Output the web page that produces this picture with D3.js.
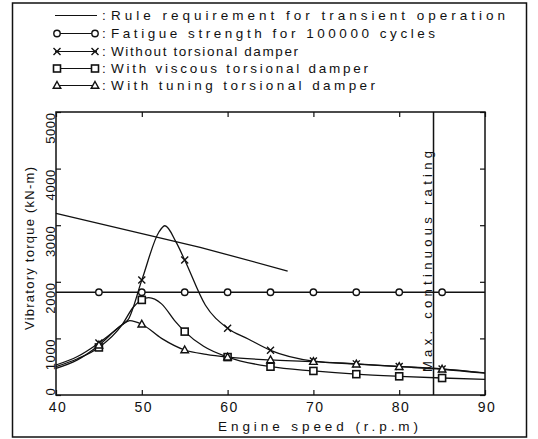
<!DOCTYPE html>
<html>
<head>
<meta charset="utf-8">
<script src="https://cdn.jsdelivr.net/npm/d3@7"></script>
<style>
  body { margin: 0; background: #fff; }
  svg text { font-family: "Liberation Sans", "DejaVu Sans", sans-serif; fill: #111; }
</style>
</head>
<body>
<div class="chart"></div>
<script>
// ticks
const rpmTicks = [40, 50, 60, 70, 80, 90];
const torqueTicks = [0, 1000, 2000, 3000, 4000, 5000];
const maxRating = 84;

// rule requirement for transient operation
const ruleRpm = [40, 56.8, 67];
const ruleVal = [3210, 2610, 2190];

// fatigue strength for 100000 cycles
const fatigueRpm = [40, 45, 50, 55, 60, 65, 70, 75, 80, 85, 90];
const fatigueVal = [1815, 1815, 1815, 1815, 1815, 1815, 1815, 1815, 1815, 1815, 1815];

// without torsional damper
const withoutRpm = [40, 42.5, 45, 47.7, 48.4, 50, 52, 52.7, 54, 55, 57.4, 60, 62.4, 65, 70, 75, 80, 85, 90];
const withoutVal = [530, 680, 920, 1240, 1330, 2030, 2880, 2990, 2700, 2385, 1590, 1180, 990, 790, 600, 550, 505, 460, 390];

// with viscous torsional damper
const viscousRpm = [40, 42.5, 45, 47.7, 49, 50, 50.8, 52.3, 53.9, 55, 57.2, 60, 65, 70, 75, 80, 85, 90];
const viscousVal = [500, 640, 840, 1240, 1550, 1680, 1720, 1610, 1300, 1120, 860, 670, 500, 425, 368, 330, 300, 275];

// with tuning torsional damper
const tuningRpm = [40, 42.5, 45, 47.7, 48.6, 50, 52.3, 55, 57.5, 60, 65, 70, 75, 80, 85, 90];
const tuningVal = [470, 620, 880, 1240, 1315, 1250, 1000, 795, 718, 670, 620, 590, 545, 500, 455, 385];

const markRpm = [45, 50, 55, 60, 65, 70, 75, 80, 85];

const legendLabels = [
  'Rule requirement for transient operation',
  'Fatigue strength for 100000 cycles',
  'Without torsional damper',
  'With viscous torsional damper',
  'With tuning torsional damper'
];

const w = 538, h = 439;
const svg = d3.select('div.chart').append('svg')
  .attr('width', w)
  .attr('height', h);

// outer frame
svg.append('rect')
  .attr('x', 12.5).attr('y', 3)
  .attr('width', 514).attr('height', 434)
  .attr('fill', 'none').attr('stroke', '#111').attr('stroke-width', 1.5);

const xScale = d3.scaleLinear().domain([40, 90]).range([56, 485]);
const yScale = d3.scaleLinear().domain([0, 5000]).range([395, 112]);

const smooth = d3.line()
  .x(d => xScale(d[0]))
  .y(d => yScale(d[1]))
  .curve(d3.curveMonotoneX);
const straight = d3.line()
  .x(d => xScale(d[0]))
  .y(d => yScale(d[1]));

const zip = (a, b) => a.map((v, i) => [v, b[i]]);

// axes (ticks pointing inward)
const xAxis = svg.append('g')
  .attr('transform', 'translate(0,395)')
  .call(d3.axisBottom(xScale).tickValues(rpmTicks).tickSize(-5).tickSizeOuter(0).tickPadding(7));
xAxis.selectAll('text')
  .style('font-size', '14px')
  .style('font-family', '"Liberation Sans", sans-serif')
  .attr('dx', '0.1em')
  .style('letter-spacing', '1.5px');

svg.append('g')
  .attr('transform', 'translate(0,112)')
  .call(d3.axisTop(xScale).tickValues(rpmTicks).tickSize(-5).tickSizeOuter(0).tickFormat(''));

const yAxis = svg.append('g')
  .attr('transform', 'translate(56,0)')
  .call(d3.axisLeft(yScale).tickValues(torqueTicks).tickSize(-5).tickSizeOuter(0).tickFormat(d3.format('d')));
yAxis.selectAll('text')
  .attr('x', null).attr('dy', null)
  .attr('transform', 'translate(-1.5,0) rotate(-90)')
  .attr('text-anchor', d => d === 0 ? 'start' : 'end')
  .style('font-family', '"Liberation Sans", sans-serif')
  .style('letter-spacing', '0.6px')
  .style('font-size', '13px');

svg.append('g')
  .attr('transform', 'translate(485,0)')
  .call(d3.axisRight(yScale).tickValues(torqueTicks).tickSize(-5).tickSizeOuter(0).tickFormat(''));

svg.selectAll('.domain').remove();
svg.selectAll('.tick line').attr('stroke', '#111').attr('stroke-width', 1.2);

// plot frame
svg.append('rect')
  .attr('x', xScale(40)).attr('y', yScale(5000))
  .attr('width', xScale(90) - xScale(40)).attr('height', yScale(0) - yScale(5000))
  .attr('fill', 'none').attr('stroke', '#111').attr('stroke-width', 1.5);

// max continuous rating
svg.append('line')
  .attr('x1', xScale(maxRating)).attr('x2', xScale(maxRating))
  .attr('y1', yScale(0)).attr('y2', yScale(5000))
  .attr('stroke', '#111').attr('stroke-width', 1.5);

svg.append('text')
  .text('Max. continuous rating')
  .attr('transform', 'translate(' + (xScale(maxRating) - 1.5) + ',372) rotate(-90)')
  .attr('textLength', 221)
  .attr('lengthAdjust', 'spacing')
  .style('font-size', '13px');

// series
const series = [
  { pts: zip(ruleRpm, ruleVal), mark: null },
  { pts: zip(fatigueRpm, fatigueVal), mark: 'circle' },
  { pts: zip(withoutRpm, withoutVal), mark: 'cross' },
  { pts: zip(viscousRpm, viscousVal), mark: 'square' },
  { pts: zip(tuningRpm, tuningVal), mark: 'triangle' }
];

function drawMark(g, type, x, y) {
  if (type === 'circle') {
    g.append('circle').attr('cx', x).attr('cy', y).attr('r', 3.2)
      .attr('fill', '#fff').attr('stroke', '#111').attr('stroke-width', 1.4);
  } else if (type === 'cross') {
    g.append('path').attr('d', `M${x-3.5},${y-3.5}L${x+3.5},${y+3.5}M${x-3.5},${y+3.5}L${x+3.5},${y-3.5}`)
      .attr('stroke', '#111').attr('stroke-width', 1.4);
  } else if (type === 'square') {
    g.append('rect').attr('x', x - 3.5).attr('y', y - 3.5).attr('width', 7).attr('height', 7)
      .attr('fill', '#fff').attr('stroke', '#111').attr('stroke-width', 1.6);
  } else if (type === 'triangle') {
    g.append('path').attr('d', `M${x},${y-4}L${x+3.8},${y+2.8}L${x-3.8},${y+2.8}Z`)
      .attr('fill', '#fff').attr('stroke', '#111').attr('stroke-width', 1.4);
  }
}

series.forEach(s => {
  svg.append('path')
    .datum(s.pts)
    .attr('d', s.mark ? smooth : straight)
    .attr('fill', 'none')
    .attr('stroke', '#111')
    .attr('stroke-width', 1.3);
});

series.forEach(s => {
  if (!s.mark) return;
  const g = svg.append('g');
  s.pts.filter(p => markRpm.includes(p[0])).forEach(p => drawMark(g, s.mark, xScale(p[0]), yScale(p[1])));
});

// legend
const legendY = [20, 38, 56, 73, 90];
const legendEnd = [505, 435, 298, 368, 375];
const legendMarks = [null, 'circle', 'cross', 'square', 'triangle'];
legendLabels.forEach((t, i) => {
  const g = svg.append('g');
  const cy = legendY[i] - 4.5;
  g.append('line').attr('x1', 55).attr('x2', 97).attr('y1', cy).attr('y2', cy)
    .attr('stroke', '#111').attr('stroke-width', 1.2);
  if (legendMarks[i]) {
    drawMark(g, legendMarks[i], 57, cy);
    drawMark(g, legendMarks[i], 95, cy);
  }
  g.append('text').text(':').attr('x', 102).attr('y', legendY[i]).style('font-size', '13.5px');
  g.append('text').text(t)
    .attr('x', 111).attr('y', legendY[i])
    .attr('textLength', legendEnd[i] - 111)
    .attr('lengthAdjust', 'spacing')
    .style('font-size', '13.5px');
});

// axis titles
svg.append('text')
  .text('Engine speed (r.p.m)')
  .attr('x', 218).attr('y', 431)
  .attr('textLength', 200)
  .attr('lengthAdjust', 'spacing')
  .style('font-size', '13.5px');

svg.append('text')
  .text('Vibratory torque (kN-m)')
  .attr('transform', 'translate(34,330) rotate(-90)')
  .attr('textLength', 163)
  .attr('lengthAdjust', 'spacing')
  .style('font-size', '13px');
</script>
</body>
</html>
